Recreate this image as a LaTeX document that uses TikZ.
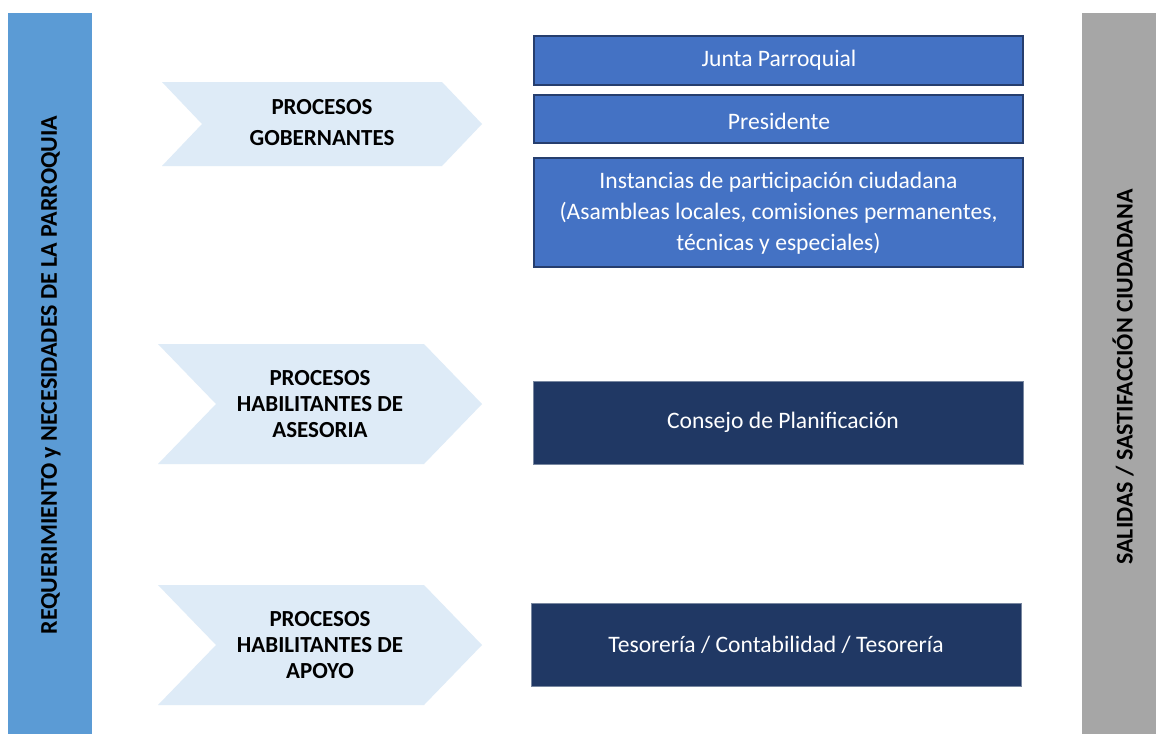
\documentclass[tikz,border=0pt]{standalone}
\usepackage{fontspec}
\setmainfont{Carlito}
\usepackage{tikz}
\definecolor{cBarL}{RGB}{91,155,213}
\definecolor{cBarR}{RGB}{166,166,166}
\definecolor{cChev}{RGB}{222,235,247}
\definecolor{cGob}{RGB}{68,114,196}
\definecolor{cGobE}{RGB}{38,62,110}
\definecolor{cHab}{RGB}{32,56,100}
\definecolor{cHabE}{RGB}{120,135,160}
\begin{document}
\begin{tikzpicture}[x=1pt,y=-1pt,
  chevtext/.style={align=center,font=\fontsize{23}{26}\selectfont\bfseries},
  boxtext/.style={align=center,text=white,font=\fontsize{23.6}{31}\selectfont},
  bartext/.style={rotate=90,font=\fontsize{24}{26}\selectfont\bfseries}]
\useasboundingbox (0,0) rectangle (1156,734);
\fill[white] (0,0) rectangle (1156,734);
% side bars
\fill[cBarL] (8,13) rectangle (92,734);
\node[bartext] (entrada) at (51,375) {REQUERIMIENTO y NECESIDADES DE LA PARROQUIA};
\fill[cBarR] (1082,13) rectangle (1156,734);
\node[bartext] (salida) at (1123,377) {SALIDAS / SASTIFACCIÓN CIUDADANA};
% chevrons
\fill[cChev] (162,82) -- (442,82) -- (482,124) -- (442,166) -- (162,166) -- (202,124) -- cycle;
\node[chevtext,font=\fontsize{23}{31}\selectfont\bfseries] (gob) at (322,123) {PROCESOS\\GOBERNANTES};
\fill[cChev] (158,344) -- (424,344) -- (482,404) -- (424,464) -- (158,464) -- (216,404) -- cycle;
\node[chevtext] (ase) at (320,404) {PROCESOS\\HABILITANTES DE\\ASESORIA};
\fill[cChev] (158,585) -- (424,585) -- (482,645) -- (424,705) -- (158,705) -- (216,645) -- cycle;
\node[chevtext] (apo) at (320,645) {PROCESOS\\HABILITANTES DE\\APOYO};
% boxes
\filldraw[fill=cGob,draw=cGobE,line width=1.2] (534,36) rectangle (1023,85);
\node[boxtext] (junta) at (779,60.5) {Junta Parroquial};
\filldraw[fill=cGob,draw=cGobE,line width=1.2] (534,95) rectangle (1023,143);
\node[boxtext] (pres) at (779,121) {Presidente};
\filldraw[fill=cGob,draw=cGobE,line width=1.2] (534,158) rectangle (1023,267);
\node[boxtext] (inst) at (778.5,213) {Instancias de participación ciudadana\\(Asambleas locales, comisiones permanentes,\\técnicas y especiales)};
\filldraw[fill=cHab,draw=cHabE,line width=0.8] (533,381) rectangle (1023,464);
\node[boxtext] (consejo) at (783,422.5) {Consejo de Planificación};
\filldraw[fill=cHab,draw=cHabE,line width=0.8] (531,603) rectangle (1021,686);
\node[boxtext] (teso) at (776,644.5) {Tesorería / Contabilidad / Tesorería};
\end{tikzpicture}
\end{document}
